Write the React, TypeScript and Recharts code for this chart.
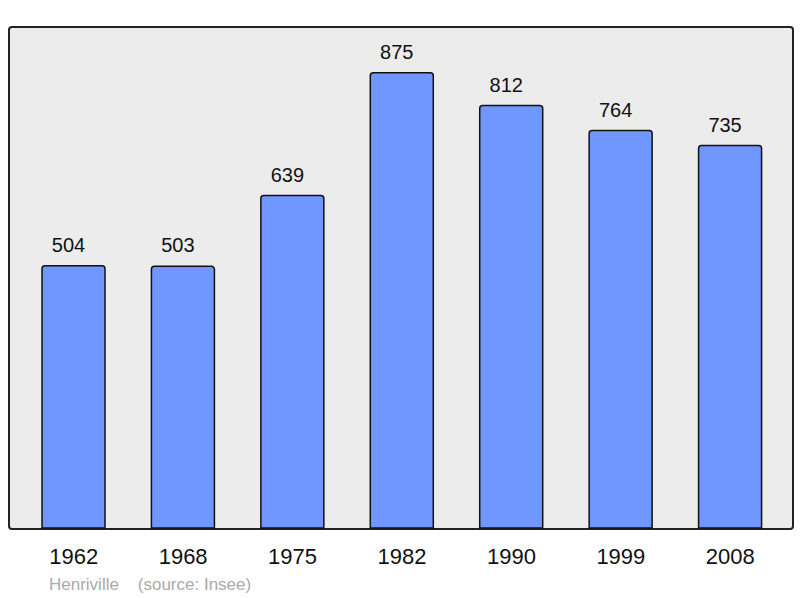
import React from 'react';
import { BarChart, Bar, XAxis, YAxis, LabelList } from 'recharts';

const years = ['1962', '1968', '1975', '1982', '1990', '1999', '2008'];
const population = [504, 503, 639, 875, 812, 764, 735];
const footerText = 'Henriville    (source: Insee)';

const data = years.map((y, i) => ({ year: y, value: population[i] }));

const FONT = '"Liberation Sans", Arial, Helvetica, sans-serif';

const ValueLabel = (props: any) => {
  const { x, y, width, value } = props;
  return (
    <text
      x={Number(x) + Number(width) / 2 - 5}
      y={Number(y) - 14}
      textAnchor="middle"
      fill="#111"
      fontSize={20}
      fontFamily={FONT}
    >
      {value}
    </text>
  );
};

export default function App() {
  return (
    <div style={{ position: 'absolute', left: 0, top: 0, width: 800, height: 598, background: '#ffffff', fontFamily: FONT }}>
      <div
        style={{
          position: 'absolute',
          left: 8,
          top: 26,
          width: 782,
          height: 500,
          background: '#ececec',
          border: '2px solid #222',
          borderRadius: 4,
        }}
      />
      <div style={{ position: 'absolute', left: 0, top: 0 }}>
        <BarChart
          width={800}
          height={598}
          data={data}
          margin={{ top: 27, right: 8, bottom: 0, left: 9 }}
          barSize={63}
        >
          <XAxis
            dataKey="year"
            height={70}
            axisLine={false}
            tickLine={false}
            padding={{ left: 10, right: 7 }}
            tick={{ fill: '#111', fontSize: 22, fontFamily: FONT }}
            tickMargin={14}
            interval={0}
          />
          <YAxis hide domain={[0, 963]} />
          <Bar dataKey="value" fill="#7096ff" stroke="#111" strokeWidth={1.5} radius={[3, 3, 0, 0]} isAnimationActive={false}>
            <LabelList dataKey="value" content={ValueLabel} />
          </Bar>
        </BarChart>
      </div>
      <div
        style={{
          position: 'absolute',
          left: 49,
          top: 575,
          fontSize: 17,
          color: '#aaaaaa',
          whiteSpace: 'pre',
          fontFamily: FONT,
        }}
      >
        {footerText}
      </div>
    </div>
  );
}
